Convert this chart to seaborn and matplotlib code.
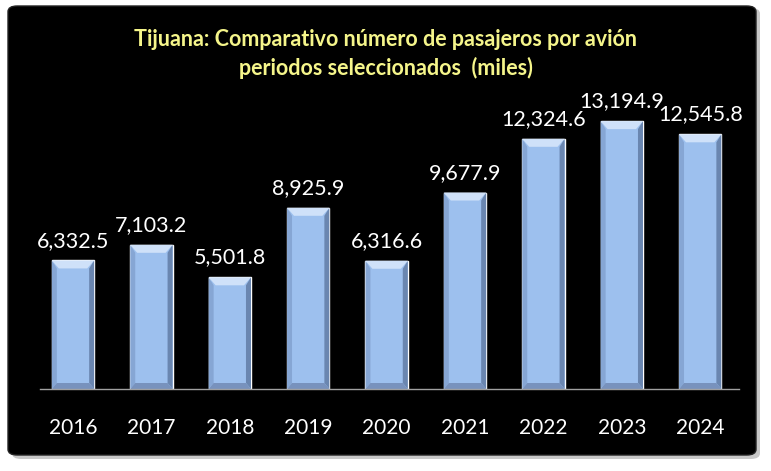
import numpy as np
import pandas as pd
import matplotlib
matplotlib.use('Agg')
from matplotlib import pyplot as plt
from matplotlib.patches import FancyBboxPatch, Polygon
import seaborn as sns

# Data (miles de pasajeros)
years = ['2016', '2017', '2018', '2019', '2020', '2021', '2022', '2023', '2024']
pasajeros = [6332.5, 7103.2, 5501.8, 8925.9, 6316.6, 9677.9, 12324.6, 13194.9, 12545.8]
titulo = 'Tijuana: Comparativo número de pasajeros por avión\nperiodos seleccionados  (miles)'

df = pd.DataFrame({'Año': years, 'Pasajeros': pasajeros})

sns.set_style('white')
plt.rcParams['font.family'] = ['Lato', 'DejaVu Sans']

fig = plt.figure(figsize=(7.71, 4.71), dpi=100)
fig.patch.set_facecolor('white')

# black rounded panel with a soft grey shadow
W, H = 771, 471
shadow = FancyBboxPatch((12 / W, 12 / H), 748 / W, 451 / H,
                        boxstyle='round,pad=0,rounding_size=0.012',
                        transform=fig.transFigure, facecolor='#c8c8c8',
                        edgecolor='none', zorder=0)
panel = FancyBboxPatch((8 / W, 16 / H), 748 / W, 449 / H,
                       boxstyle='round,pad=0,rounding_size=0.012',
                       transform=fig.transFigure, facecolor='black',
                       edgecolor='#222222', zorder=1)
fig.patches.extend([shadow, panel])

ax = fig.add_axes([33.8 / W, 82 / H, 705.6 / W, 289 / H])
ax.set_facecolor('none')
ax.set_zorder(2)

sns.barplot(data=df, x='Año', y='Pasajeros', color='#9dc0ee', width=0.54,
            saturation=1, ax=ax, zorder=3)

ax.set_xlim(-0.5, len(years) - 0.5)
ax.set_ylim(0, 14236)

# bevel effect on every bar, sizes derived from pixel scale
px_x = (len(years)) / 705.6
px_y = 14236 / 289
for p in ax.patches:
    x0 = p.get_x()
    w = p.get_width()
    h = p.get_height()
    x1 = x0 + w
    bx, by = 7 * px_x, 8 * px_y
    sx = 5 * px_x
    top = Polygon([(x0, h), (x1, h), (x1 - bx, h - by), (x0 + bx, h - by)],
                  closed=True, facecolor='#cfe1f9', edgecolor='none', zorder=4)
    left = Polygon([(x0, 0), (x0, h), (x0 + sx, h - by), (x0 + sx, 6 * px_y)],
                   closed=True, facecolor='#86a6d4', edgecolor='none', zorder=4)
    right = Polygon([(x1, 0), (x1, h), (x1 - sx, h - by), (x1 - sx, 6 * px_y)],
                    closed=True, facecolor='#6a86b0', edgecolor='none', zorder=4)
    bottom = Polygon([(x0, 0), (x1, 0), (x1 - sx, 6 * px_y), (x0 + sx, 6 * px_y)],
                     closed=True, facecolor='#7892bd', edgecolor='none', zorder=4)
    for poly in (top, left, right, bottom):
        ax.add_patch(poly)

for i, v in enumerate(pasajeros):
    ax.annotate(f'{v:,.1f}', (i, v), xytext=(0, 7), textcoords='offset points',
                ha='center', va='bottom', color='white', fontsize=15.5)

ax.set_xlabel('')
ax.set_ylabel('')
ax.set_yticks([])
ax.tick_params(axis='x', length=0, pad=21, colors='white', labelsize=15)
for s in ['top', 'right', 'left']:
    ax.spines[s].set_visible(False)
ax.spines['bottom'].set_color('#a0a0a0')
ax.spines['bottom'].set_linewidth(1)
ax.spines['bottom'].set_bounds(-0.42, len(years) - 0.5)
ax.spines['bottom'].set_zorder(5)

fig.text(0.5, 1 - 54 / H, titulo, ha='center', va='center', color='#f5f58a',
         fontsize=15.5, fontweight='bold', linespacing=1.4)

plt.savefig('out.png', dpi=100, facecolor='white')
